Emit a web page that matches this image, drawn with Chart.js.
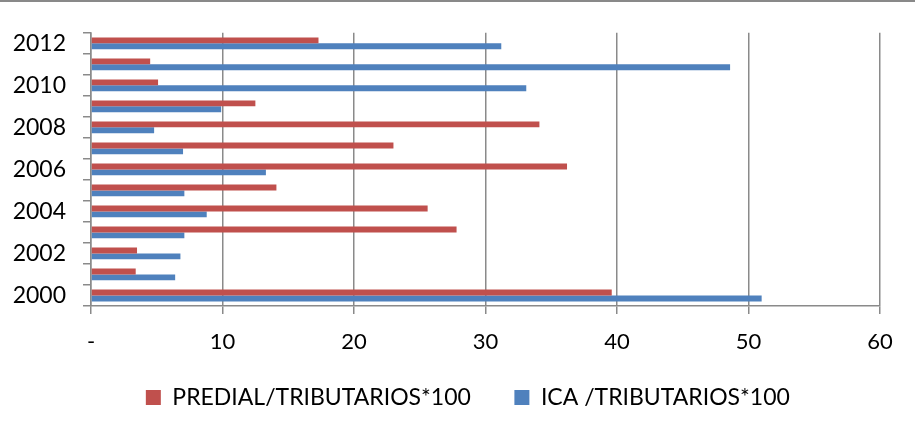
<!DOCTYPE html>
<html>
<head>
<meta charset="utf-8">
<script src="https://cdn.jsdelivr.net/npm/chart.js@4/dist/chart.umd.min.js"></script>
<style>
  body { margin: 0; background: #fff; }
  #wrap { width: 915px; height: 432px; box-sizing: border-box; border-top: 2px solid #898989; }
  #box { position: relative; width: 915px; height: 430px; }
</style>
</head>
<body>
<div id="wrap"><div id="box"><canvas id="ratioChart"></canvas></div></div>
<script>
// years, bottom to top
const years = ["2000", "2001", "2002", "2003", "2004", "2005", "2006",
  "2007", "2008", "2009", "2010", "2011", "2012"];

// PREDIAL / TRIBUTARIOS * 100
const predial = [39.6, 3.4, 3.5, 27.8, 25.6, 14.1, 36.2, 23.0, 34.1, 12.5, 5.1, 4.5, 17.3];

// ICA / TRIBUTARIOS * 100
const ica = [51.0, 6.4, 6.8, 7.1, 8.8, 7.1, 13.3, 7.0, 4.8, 9.9, 33.1, 48.6, 31.2];

const xTicks = [0, 10, 20, 30, 40, 50, 60];

const gridGray = "#8a8a8a";
const txt = "#000000";

const ctx = document.getElementById("ratioChart").getContext("2d");

const ratioChart = new Chart(ctx, {
  type: "bar",
  data: {
    labels: years,
    datasets: [
      {
        label: "PREDIAL/TRIBUTARIOS*100",
        data: predial,
        backgroundColor: "#c0504d",
        borderWidth: 0,
      },
      {
        label: "ICA /TRIBUTARIOS*100",
        data: ica,
        backgroundColor: "#4f81bd",
        borderWidth: 0,
      },
    ],
  },
  options: {
    indexAxis: "y",
    responsive: true,
    maintainAspectRatio: false,
    animation: false,
    categoryPercentage: 0.56,
    barPercentage: 1,
    layout: {
      padding: { top: 28, right: 35, bottom: 13, left: 0 },
    },
    scales: {
      x: {
        min: 0,
        max: 60,
        afterBuildTicks: (scale) => {
          scale.ticks = xTicks.map((v) => ({ value: v }));
        },
        afterFit: (scale) => {
          scale.height = 60;
        },
        ticks: {
          color: txt,
          font: { family: "Lato", size: 22 },
          padding: 15,
          maxRotation: 0,
          callback: (value) => (value === 0 ? "-" : value),
        },
        grid: {
          color: gridGray,
          lineWidth: 1.5,
          tickLength: 8,
        },
        border: { color: gridGray, width: 1.5 },
      },
      y: {
        reverse: true,
        afterFit: (scale) => {
          scale.width = 91;
        },
        ticks: {
          color: txt,
          font: { family: "Lato", size: 23 },
          padding: 17,
          autoSkip: false,
          callback: function (value, index) {
            return index % 2 === 0 ? this.getLabelForValue(value) : "";
          },
        },
        grid: {
          offset: true,
          drawOnChartArea: false,
          color: gridGray,
          lineWidth: 1.5,
          tickLength: 8,
        },
        border: { color: gridGray, width: 1.5 },
      },
    },
    plugins: {
      tooltip: { enabled: false },
      legend: {
        position: "bottom",
        fullSize: false,
        labels: {
          color: txt,
          font: { family: "Lato", size: 23 },
          boxWidth: 15,
          boxHeight: 15,
          padding: 20,
          // trailing spaces: wider gap between entries and a slight shift left
          generateLabels: (chart) => {
            const items = Chart.defaults.plugins.legend.labels.generateLabels(chart);
            items[0].text = items[0].text + "    ";
            items[1].text = items[1].text + "      ";
            return items;
          },
        },
      },
    },
  },
});
</script>
</body>
</html>
